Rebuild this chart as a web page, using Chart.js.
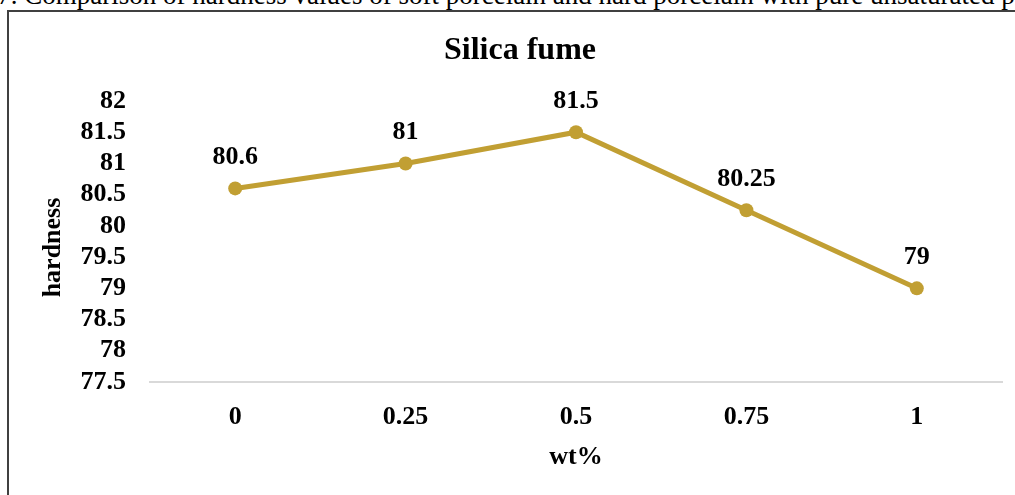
<!DOCTYPE html>
<html>
<head>
<meta charset="utf-8">
<title>Silica fume</title>
<script src="https://cdn.jsdelivr.net/npm/chart.js@4.4.1/dist/chart.umd.min.js"></script>
<style>
  html, body { margin: 0; padding: 0; width: 1015px; height: 495px; overflow: hidden; background: #fff; }
  #caption {
    position: absolute; top: -18px; left: 0;
    font-family: 'Liberation Serif', 'Times New Roman', serif;
    font-size: 27px; line-height: 1; white-space: nowrap; color: #000;
  }
  #frame {
    position: absolute; left: 7px; top: 10px; width: 1100px; height: 600px;
    border: 2px solid #404040; box-sizing: border-box;
  }
  #chart { position: absolute; left: 0; top: 0; }
</style>
</head>
<body>
<div id="caption"><span id="capPrefix">Figure 7. </span>Comparison of hardness values of soft porcelain and hard porcelain with pure unsaturated polyester</div>
<div id="frame"></div>
<canvas id="chart" width="1015" height="495"></canvas>
<script>
// Silica fume content (wt%) and measured hardness
const categories = ['0', '0.25', '0.5', '0.75', '1'];
const hardness = [80.6, 81, 81.5, 80.25, 79];
const yTickLabels = ['77.5', '78', '78.5', '79', '79.5', '80', '80.5', '81', '81.5', '82'];
const valueLabels = ['80.6', '81', '81.5', '80.25', '79'];

// place the caption so that "Comparison" starts just inside the frame
const prefix = document.getElementById('capPrefix');
document.getElementById('caption').style.left = (24 - prefix.offsetWidth) + 'px';

const SERIF = "'Liberation Serif', 'Times New Roman', serif";
const GOLD = '#C19F33';

Chart.defaults.font.family = SERIF;
Chart.defaults.color = '#000';

// chart title, value labels above each point and the two axis titles
const annotate = {
  id: 'annotate',
  afterDatasetsDraw(chart) {
    const ctx = chart.ctx;
    const area = chart.chartArea;
    const meta = chart.getDatasetMeta(0);
    ctx.save();
    ctx.fillStyle = '#000';
    ctx.textAlign = 'center';

    ctx.font = 'bold 32px ' + SERIF;
    ctx.textBaseline = 'alphabetic';
    ctx.fillText('Silica fume', 520, 59);

    ctx.font = 'bold 26px ' + SERIF;
    ctx.textBaseline = 'middle';
    meta.data.forEach((pt, i) => {
      ctx.fillText(valueLabels[i], pt.x, pt.y - 31);
    });
    // x axis title
    ctx.fillText('wt%', (area.left + area.right) / 2, area.bottom + 75);
    // y axis title
    ctx.translate(53, (area.top + area.bottom) / 2 + 6);
    ctx.rotate(-Math.PI / 2);
    ctx.fillText('hardness', 0, 0);
    ctx.restore();
  }
};

new Chart(document.getElementById('chart'), {
  type: 'line',
  data: {
    labels: categories,
    datasets: [{
      data: hardness,
      borderColor: GOLD,
      backgroundColor: GOLD,
      borderWidth: 5,
      pointRadius: 7,
      pointHoverRadius: 7,
      pointBackgroundColor: GOLD,
      pointBorderWidth: 0,
      tension: 0,
      fill: false
    }]
  },
  options: {
    responsive: false,
    animation: false,
    devicePixelRatio: 1,
    layout: { padding: { left: 0, right: 13, top: 101, bottom: 0 } },
    plugins: {
      legend: { display: false },
      tooltip: { enabled: false },
      title: { display: false }
    },
    scales: {
      x: {
        type: 'category',
        offset: true,
        grid: { display: false, drawTicks: false },
        border: { display: true, color: '#d9d9d9', width: 2 },
        ticks: { font: { family: SERIF, size: 26, weight: 'bold' }, color: '#000', padding: 20, maxRotation: 0 },
        afterFit(scale) { scale.height = 113; }
      },
      y: {
        min: 77.5,
        max: 82,
        grid: { display: false, drawTicks: false },
        border: { display: false },
        ticks: {
          stepSize: 0.5,
          autoSkip: false,
          padding: 24,
          color: '#000',
          font: { family: SERIF, size: 26, weight: 'bold' },
          callback(value, index) { return yTickLabels[index]; }
        },
        afterFit(scale) { scale.width = 150; }
      }
    }
  },
  plugins: [annotate]
});
</script>
</body>
</html>
